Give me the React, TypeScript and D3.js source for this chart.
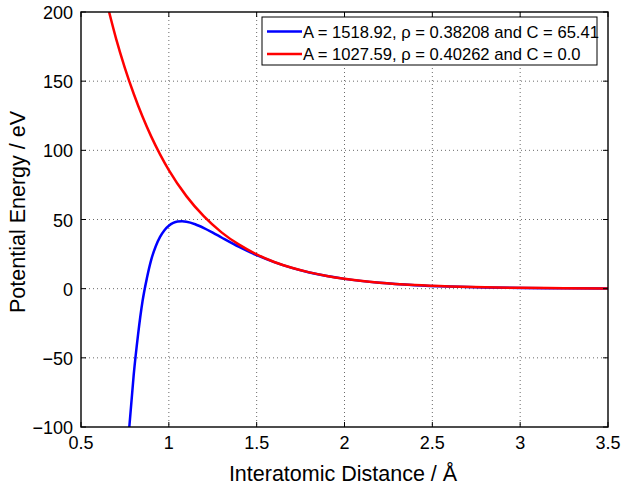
import React from "react";
import * as d3 from "d3";

const xTicks = [0.5, 1, 1.5, 2, 2.5, 3, 3.5];
const yTicks = [-100, -50, 0, 50, 100, 150, 200];

const blueR = [0.775, 0.8, 0.825, 0.85, 0.875, 0.9, 0.925, 0.95, 0.975, 1.0, 1.025, 1.05, 1.075, 1.1, 1.15, 1.2, 1.25, 1.3, 1.4, 1.5, 1.6, 1.7, 1.8, 1.9, 2.0, 2.2, 2.4, 2.6, 2.8, 3.0, 3.25, 3.5];
const blueV = [-100, -62.3, -33, -9.3, 7.5, 21.0, 30.5, 37.4, 42.3, 45.5, 47.5, 48.5, 48.7, 48.4, 46.6, 43.8, 40.5, 37.0, 30.2, 24.2, 19.2, 15.0, 11.7, 9.1, 7.08, 4.22, 2.5, 1.5, 0.87, 0.5, 0.26, 0.13];

const redR = [0.66, 0.7, 0.75, 0.8, 0.85, 0.9, 0.95, 1.0, 1.1, 1.2, 1.3, 1.4, 1.5, 1.6, 1.7, 1.8, 1.9, 2.0, 2.2, 2.4, 2.6, 2.8, 3.0, 3.25, 3.5];
const redV = [200, 180.6, 159.5, 140.9, 124.4, 109.9, 97.1, 85.7, 66.9, 52.2, 40.7, 31.8, 24.8, 19.3, 15.1, 11.8, 9.2, 7.16, 4.35, 2.64, 1.61, 0.98, 0.6, 0.32, 0.17];

const legendLabels = [
  "A = 1518.92, \u03C1 = 0.38208 and C = 65.41",
  "A = 1027.59, \u03C1 = 0.40262 and C = 0.0",
];
const colors = ["#0000ff", "#ff0000"];

export default function App() {
  const W = 622, H = 488;
  const L = 81, R = 608, T = 12, B = 427;
  const x = d3.scaleLinear().domain([0.5, 3.5]).range([L, R]);
  const y = d3.scaleLinear().domain([-100, 200]).range([B, T]);
  const line = d3
    .line<[number, number]>()
    .x((d) => x(d[0]))
    .y((d) => y(d[1]))
    .curve(d3.curveMonotoneX);
  const blue = blueR.map((r, i) => [r, blueV[i]] as [number, number]);
  const red = redR.map((r, i) => [r, redV[i]] as [number, number]);
  const font = "Liberation Sans, Arial, Helvetica, sans-serif";
  return (
    <svg width={W} height={H} style={{ position: "absolute", left: 0, top: 0, background: "#fff" }} fontFamily={font}>
      <rect x={0} y={0} width={W} height={H} fill="#fff" />
      <defs>
        <clipPath id="clip">
          <rect x={L} y={T} width={R - L} height={B - T} />
        </clipPath>
      </defs>
      {/* grid */}
      {xTicks.slice(1, -1).map((t) => (
        <line key={"gx" + t} x1={x(t)} x2={x(t)} y1={T} y2={B} stroke="#444" strokeWidth={0.8} strokeDasharray="1,3" />
      ))}
      {yTicks.slice(1, -1).map((t) => (
        <line key={"gy" + t} x1={L} x2={R} y1={y(t)} y2={y(t)} stroke="#444" strokeWidth={0.8} strokeDasharray="1,3" />
      ))}
      {/* curves */}
      <g clipPath="url(#clip)">
        <path d={line(blue) || ""} fill="none" stroke={colors[0]} strokeWidth={2.5} />
        <path d={line(red) || ""} fill="none" stroke={colors[1]} strokeWidth={2.5} />
      </g>
      {/* ticks */}
      {xTicks.map((t) => (
        <g key={"tx" + t}>
          <line x1={x(t)} x2={x(t)} y1={B} y2={B - 5} stroke="#000" />
          <line x1={x(t)} x2={x(t)} y1={T} y2={T + 5} stroke="#000" />
          <text x={x(t)} y={B + 22} fontSize={18} textAnchor="middle" fill="#000">
            {String(t)}
          </text>
        </g>
      ))}
      {yTicks.map((t) => (
        <g key={"ty" + t}>
          <line x1={L} x2={L + 5} y1={y(t)} y2={y(t)} stroke="#000" />
          <line x1={R} x2={R - 5} y1={y(t)} y2={y(t)} stroke="#000" />
          <text x={L - 8} y={y(t) + 7} fontSize={18} textAnchor="end" fill="#000">
            {t < 0 ? "\u2212" + Math.abs(t) : String(t)}
          </text>
        </g>
      ))}
      <rect x={L} y={T} width={R - L} height={B - T} fill="none" stroke="#000" strokeWidth={1.4} />
      {/* legend */}
      <rect x={262} y={17} width={335} height={48} fill="#fff" stroke="#000" strokeWidth={1} />
      {legendLabels.map((lab, i) => (
        <g key={lab}>
          <line x1={267} x2={302} y1={31.5 + i * 22.5} y2={31.5 + i * 22.5} stroke={colors[i]} strokeWidth={2.5} />
          <text x={303} y={37.5 + i * 22.5} fontSize={16.6} fill="#000">
            {lab}
          </text>
        </g>
      ))}
      {/* axis titles */}
      <text x={343} y={481} fontSize={21.5} textAnchor="middle" fill="#000">
        Interatomic Distance / Å
      </text>
      <text transform={`translate(25,212) rotate(-90)`} fontSize={21.5} textAnchor="middle" fill="#000">
        Potential Energy / eV
      </text>
    </svg>
  );
}
